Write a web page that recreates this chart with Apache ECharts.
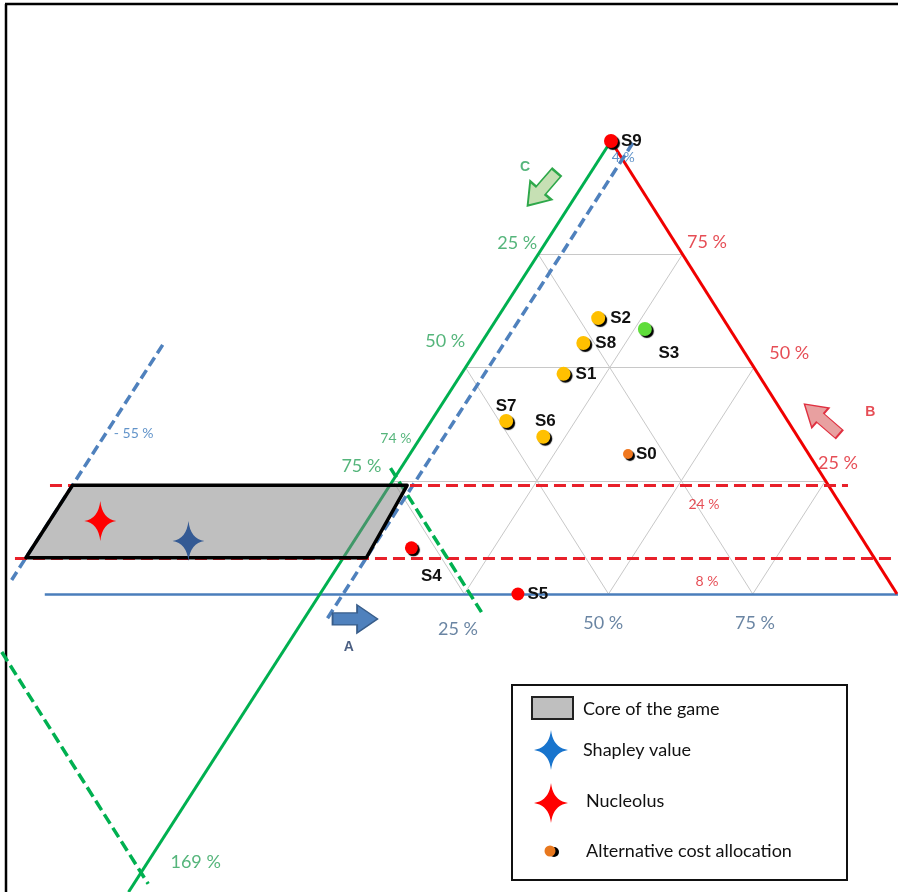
<!DOCTYPE html>
<html><head><meta charset="utf-8">
<script src="https://cdn.jsdelivr.net/npm/echarts@6.0.0/dist/echarts.min.js"></script>
<style>html,body{margin:0;padding:0;background:#fff}#c{width:898px;height:892px}</style>
</head><body><div id="c"></div><script>
// ===== DATA (ternary shares in %, A = blue axis, B = red axis, C = green axis) =====
const pointNames = ['S0','S1','S2','S3','S4','S5','S6','S7','S8','S9'];
const pointA = [37.8, 17.7, 17.5, 26.8, 10.7, 34.3, 21.2, 13.0, 17.7, 0];
const pointB = [30.9, 48.6, 60.9, 58.5, 10.2, 0.0, 34.7, 38.2, 55.4, 100];
const gridTicks = [25, 50, 75];
const nucleolusAB = [-46.2, 16.1];
const shapleyAB = [-28.7, 11.7];
const coreA = [-55, 3, 4, -55];
const coreB = [24, 24, 8, 8];
const limitA = [4, -55];          // blue dashed
const limitB = [24, 8];           // red dashed
const limitC = [74, 161.5];       // green dashed (as drawn)
const limitCLabels = ['74 %', '169 %'];
const limitALabels = ['4 %', '- 55 %'];
const limitBLabels = ['24 %', '8 %'];
const tickLabels = ['25 %', '50 %', '75 %'];
const legendNames = ['Core of the game', 'Shapley value', 'Nucleolus', 'Alternative cost allocation'];

// ===== GEOMETRY =====
const TX = 0.5043;
const xy = (A, B) => [A / 100 + TX * B / 100, B / 100];
const xyC = (C, B) => xy(100 - B - C, B);

const GRID = '#C8C8C8', RED = '#F00000', GREEN = '#00B050', BLUE = '#4A7EBB';
const TGREEN = '#2BA35A', TRED = '#E0202A', TBLUE = '#45668C', TBLUE2 = '#3A78BC';

const lineItems = [];
gridTicks.forEach(k => {
  lineItems.push({coords: [xy(0, k), xy(100 - k, k)], lineStyle: {color: GRID, width: 1}});
  lineItems.push({coords: [xy(k, 0), xy(k, 100 - k)], lineStyle: {color: GRID, width: 1}});
  lineItems.push({coords: [xy(100 - k, 0), xy(0, 100 - k)], lineStyle: {color: GRID, width: 1}});
});
const lines2 = [];
lines2.push({coords: [xy(-47.7, 0), xy(100.2, 0)], lineStyle: {color: BLUE, width: 2.5}});
lines2.push({coords: [xy(0, 100), xy(100, 0)], lineStyle: {color: RED, width: 3}});
lines2.push({coords: [xy(0, 100), xy(0, -65.8)], lineStyle: {color: GREEN, width: 3}});
const aRanges = [[99.6, -5.5], [55, 3.1]];
limitA.forEach((a, i) => lines2.push({coords: [xy(a, aRanges[i][0]), xy(a, aRanges[i][1])], lineStyle: {color: '#4F81BD', width: 3.5, type: [10, 5]}}));
const bRanges = [[-58.9, 79.4], [-56.9, 95.3]];
limitB.forEach((b, i) => lines2.push({coords: [xy(bRanges[i][0], b), xy(bRanges[i][1], b)], lineStyle: {color: '#E8202A', width: 3, type: [12, 6]}}));
const cRanges = [[27.8, -4], [-12.8, -64]];
limitC.forEach((c, i) => lines2.push({coords: [xyC(c, cRanges[i][0]), xyC(c, cRanges[i][1])], lineStyle: {color: GREEN, width: 3.5, type: [11, 5]}}));

const ptColor = {S0:'#F07820',S1:'#FFC000',S2:'#FFC000',S3:'#5FDD3A',S4:'#FF0000',S5:'#FF0000',S6:'#FFC000',S7:'#FFC000',S8:'#FFC000',S9:'#FF0000'};
const ptSize = {S0:10,S1:14,S2:14,S3:14,S4:13,S5:13,S6:14,S7:14,S8:14,S9:14};
const ptLabel = {
  S0:{position:'right', distance:3}, S1:{position:'right', distance:5}, S2:{position:'right', distance:5},
  S3:{position:'bottom', offset:[24,4]}, S4:{position:'bottom', offset:[20,9]}, S5:{position:'right', distance:3},
  S6:{position:'top', offset:[2,5]}, S7:{position:'top', offset:[0,6]}, S8:{position:'right', distance:5},
  S9:{position:'right', distance:3}
};
const pointData = pointNames.map((n, i) => ({
  value: xy(pointA[i], pointB[i]), name: n, symbolSize: ptSize[n],
  itemStyle: {color: ptColor[n], opacity: 1, shadowColor: n === 'S5' ? 'rgba(0,0,0,0)' : '#000', shadowOffsetX: 2, shadowOffsetY: 2, shadowBlur: 1},
  label: Object.assign({show: true, formatter: n, color: '#111', fontSize: 17, fontWeight: 'bold', fontFamily: 'Liberation Sans'}, ptLabel[n])
}));

const starPath = 'path://M0,-20 Q2,-2 16,0 Q2,2 0,20 Q-2,2 -16,0 Q-2,-2 0,-20 Z';
const starData = [
  {value: xy(nucleolusAB[0], nucleolusAB[1]), itemStyle: {color: '#FF0000', opacity: 1}},
  {value: xy(shapleyAB[0], shapleyAB[1]), itemStyle: {color: '#345A94', opacity: 1}}
];

const T = (text, A, B, color, size, weight) => ({
  value: xy(A, B), label: {show: true, position: 'inside', formatter: text, color, fontSize: size, fontWeight: weight || 'normal', fontFamily: weight ? 'Liberation Sans' : 'Lato'}
});
const textData = [
  T(tickLabels[0], -4.9, 77.5, TGREEN, 18), T(tickLabels[1], -6.5, 55.9, TGREEN, 18), T(tickLabels[2], -7.1, 28.3, TGREEN, 18),
  T(limitCLabels[0], -4.2, 34.4, TGREEN, 14), T(limitCLabels[1], 8.3, -59.2, TGREEN, 18), T('C', -12.0, 94.3, TGREEN, 14, 'bold'),
  T(tickLabels[2], 27.9, 77.7, TRED, 18), T(tickLabels[1], 54.5, 53.2, TRED, 18), T(tickLabels[0], 75.2, 28.9, TRED, 18),
  T(limitBLabels[0], 56.6, 19.7, TRED, 14), T(limitBLabels[1], 65.7, 2.7, TRED, 14), T('B', 75.1, 40.2, TRED, 14, 'bold'),
  T(tickLabels[0], 27.8, -7.7, TBLUE, 18), T(tickLabels[1], 52.3, -6.4, TBLUE, 18), T(tickLabels[2], 78.6, -6.4, TBLUE, 18),
  T(limitALabels[0], 4.0, 96.3, TBLUE2, 14), T(limitALabels[1], -50.2, 35.5, TBLUE2, 14), T('A', 10.9, -11.7, '#1F3864', 14, 'bold')
];

const arrowPath = 'path://M0,8 L24,8 L24,0 L44,14 L24,28 L24,20 L0,20 Z';
const arrowData = [
  {value: xy(8.85, -5.5), symbolSize: [45, 28], symbolRotate: 0, itemStyle: {color: '#4F81BD', opacity: 1, borderColor: '#385D8A', borderWidth: 1.5}},
  {value: xy(67.5, 38.6), symbolSize: [46, 26], symbolRotate: 139, itemStyle: {color: '#E8A0A0', opacity: 1, borderColor: '#E03040', borderWidth: 1.5}},
  {value: xy(-6.6, 89.4), symbolSize: [44, 28], symbolRotate: -131, itemStyle: {color: '#C6E0B4', opacity: 1, borderColor: '#2EA84A', borderWidth: 2}}
];

function starPoly(cx, cy, w, h) {
  const pts = [], hw = w / 2, hh = h / 2, q = 0.12;
  const tips = [[0, -hh], [hw, 0], [0, hh], [-hw, 0]];
  for (let t = 0; t < 4; t++) {
    const p0 = tips[t], p2 = tips[(t + 1) % 4];
    const c = [(p0[0] + p2[0]) * q, (p0[1] + p2[1]) * q];
    for (let s = 0; s < 10; s++) {
      const u = s / 10;
      pts.push([cx + (1-u)*(1-u)*p0[0] + 2*(1-u)*u*c[0] + u*u*p2[0], cy + (1-u)*(1-u)*p0[1] + 2*(1-u)*u*c[1] + u*u*p2[1]]);
    }
  }
  return pts;
}

const chart = echarts.init(document.getElementById('c'), null, {renderer: 'canvas'});
chart.setOption({
  animation: false,
  backgroundColor: '#fff',
  grid: {left: 0, right: 0, top: 0, bottom: 0},
  xAxis: {type: 'value', min: -320 / 577, max: 578 / 577, show: false},
  yAxis: {type: 'value', min: -298 / 453, max: 594 / 453, show: false},
  series: [
    {type: 'lines', coordinateSystem: 'cartesian2d', silent: true, z: 1, lineStyle: {opacity: 1}, data: lineItems},
    {type: 'lines', coordinateSystem: 'cartesian2d', silent: true, z: 2, lineStyle: {opacity: 1}, data: lines2},
    {type: 'custom', coordinateSystem: 'cartesian2d', silent: true, z: 3, data: [[0, 0]],
      renderItem: (params, api) => ({type: 'polygon', shape: {points: coreA.map((a, i) => api.coord(xy(a, coreB[i])))},
        style: {fill: 'rgba(128,128,128,0.5)', stroke: '#000', lineWidth: 3.5, lineJoin: 'round'}})},
    {type: 'scatter', silent: true, z: 4, symbol: starPath, symbolSize: [32, 40], data: starData},
    {type: 'scatter', silent: true, z: 5, symbol: 'circle', data: pointData},
    {type: 'scatter', silent: true, z: 6, symbolSize: 0, data: textData},
    {type: 'scatter', silent: true, z: 6, symbol: arrowPath, data: arrowData}
  ],
  graphic: [
    {type: 'line', shape: {x1: 5, y1: 4, x2: 898, y2: 4}, style: {stroke: '#000', lineWidth: 2.5}},
    {type: 'line', shape: {x1: 6, y1: 4, x2: 6, y2: 892}, style: {stroke: '#000', lineWidth: 2.5}},
    {type: 'rect', shape: {x: 512, y: 685, width: 335, height: 195}, style: {fill: '#fff', stroke: '#111', lineWidth: 2}, z: 100},
    {type: 'rect', shape: {x: 532, y: 697, width: 41, height: 22}, style: {fill: '#BFBFBF', stroke: '#222', lineWidth: 2}, z: 101},
    {type: 'text', x: 583, y: 709, style: {text: legendNames[0], font: '18px Lato', fill: '#111', verticalAlign: 'middle'}, z: 101},
    {type: 'polygon', shape: {points: starPoly(551, 750, 34, 40)}, style: {fill: '#1874CD'}, z: 101},
    {type: 'text', x: 583, y: 750, style: {text: legendNames[1], font: '18px Lato', fill: '#111', verticalAlign: 'middle'}, z: 101},
    {type: 'polygon', shape: {points: starPoly(551, 803, 34, 40)}, style: {fill: '#FF0000'}, z: 101},
    {type: 'text', x: 586, y: 801, style: {text: legendNames[2], font: '18px Lato', fill: '#111', verticalAlign: 'middle'}, z: 101},
    {type: 'circle', shape: {cx: 554, cy: 852, r: 5}, style: {fill: '#000'}, z: 101},
    {type: 'circle', shape: {cx: 550, cy: 851, r: 5.5}, style: {fill: '#E8781E'}, z: 102},
    {type: 'text', x: 586, y: 851, style: {text: legendNames[3], font: '18px Lato', fill: '#111', verticalAlign: 'middle'}, z: 101}
  ]
});
</script></body></html>
